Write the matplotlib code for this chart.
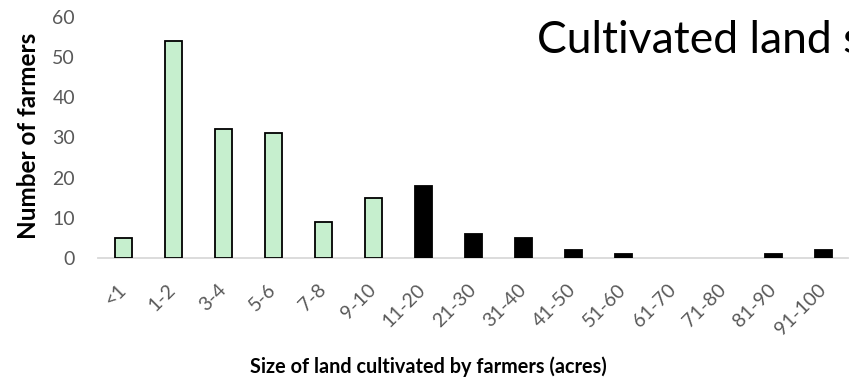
import matplotlib
matplotlib.use("Agg")
import matplotlib.pyplot as plt

categories = ["<1", "1-2", "3-4", "5-6", "7-8", "9-10", "11-20", "21-30",
              "31-40", "41-50", "51-60", "61-70", "71-80", "81-90", "91-100"]
farmers = [5, 54, 32, 31, 9, 15, 18, 6, 5, 2, 1, 0, 0, 1, 2]
small_holdings = 6  # first six classes drawn in light green

plt.rcParams['font.family'] = ['Lato', 'DejaVu Sans']

W, H = 849, 381
fig = plt.figure(figsize=(W / 100, H / 100), dpi=100)
ax = fig.add_axes([98 / W, 1 - 258 / H, 750 / W, (258 - 17) / H])

x = list(range(len(categories)))
colors = ["#C6EFCE" if i < small_holdings else "black" for i in x]
edge_widths = [1.3 if v > 0 else 0 for v in farmers]
ax.bar(x, farmers, width=0.34, color=colors, edgecolor="black",
       linewidth=edge_widths, zorder=3)

ax.set_xlim(-0.5, len(categories) - 0.5)
ax.set_ylim(0, 60)
ax.set_yticks(range(0, 61, 10))
ax.tick_params(axis='y', length=0, labelsize=14, labelcolor="#595959", pad=16.5)
ax.set_xticks(x)
ax.set_xticklabels(categories, rotation=45, ha="right", va="center",
                   rotation_mode="anchor")
ax.tick_params(axis='x', length=0, labelsize=14, labelcolor="#595959", pad=21)

for s in ["top", "right", "left"]:
    ax.spines[s].set_visible(False)
ax.spines["bottom"].set_color("#D9D9D9")
ax.spines["bottom"].set_linewidth(1.3)

fig.text(29 / W, 1 - 136 / H, "Number of farmers", rotation=90, ha="center", va="center",
         fontsize=17.5, fontweight="bold")
fig.text(428 / W, 1 - 367 / H, "Size of land cultivated by farmers (acres)", ha="center",
         va="center", fontsize=14.3, fontweight="bold")
# Chart title runs off the right edge of the canvas
fig.text(537 / W, 1 - 53 / H, "Cultivated land size", ha="left", va="baseline",
         fontsize=32)

fig.savefig("out.png", dpi=100)
